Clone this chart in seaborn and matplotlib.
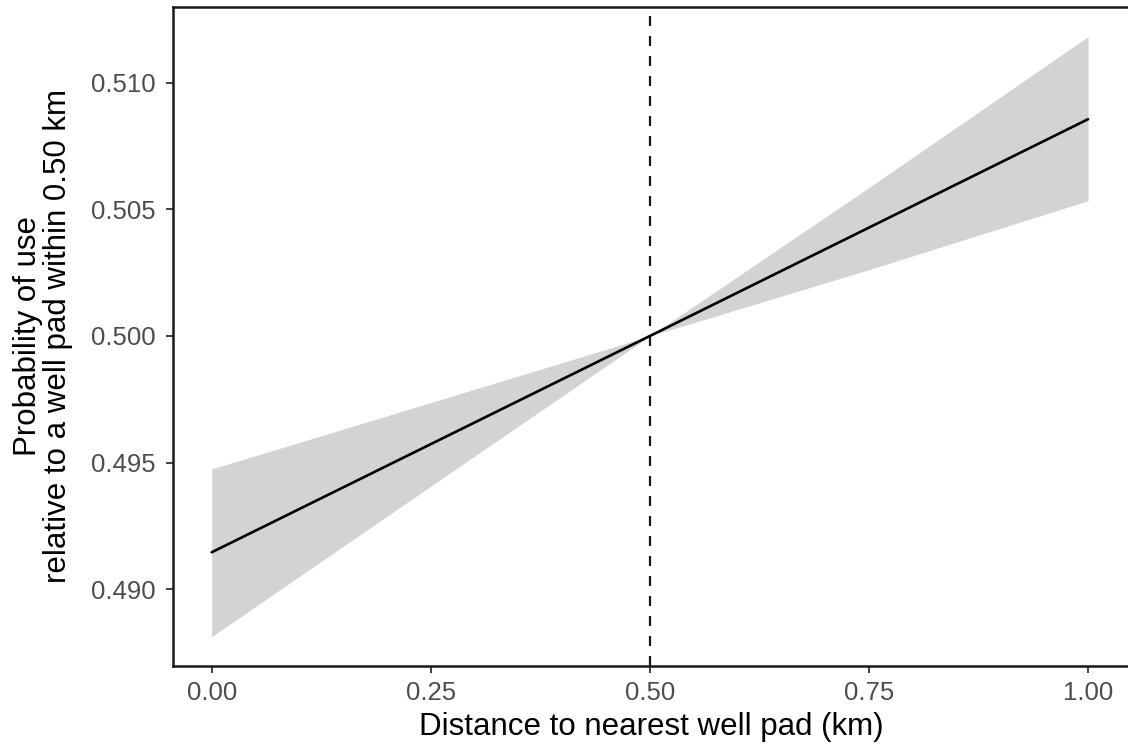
import numpy as np
import pandas as pd
import matplotlib
matplotlib.use("Agg")
import matplotlib.pyplot as plt
import seaborn as sns

# Predicted probability of use vs. distance to the nearest well pad
distance_km = [0.0, 0.25, 0.50, 0.75, 1.0]
prob_fit = [0.49146, 0.49573, 0.50000, 0.50428, 0.50856]
prob_lower = [0.48813, 0.49407, 0.50000, 0.50262, 0.50534]
prob_upper = [0.49475, 0.49737, 0.50000, 0.50586, 0.51182]

x_ticks = [0.00, 0.25, 0.50, 0.75, 1.00]
x_tick_labels = ["0.00", "0.25", "0.50", "0.75", "1.00"]
y_ticks = [0.490, 0.495, 0.500, 0.505, 0.510]
y_tick_labels = ["0.490", "0.495", "0.500", "0.505", "0.510"]
reference_distance = 0.50

df = pd.DataFrame({"distance": distance_km, "fit": prob_fit,
                   "lower": prob_lower, "upper": prob_upper})

sns.set_theme(style="white")
plt.rcParams["font.family"] = ["Liberation Sans", "DejaVu Sans"]

W, H = 1128, 751
fig = plt.figure(figsize=(W / 100, H / 100), dpi=100)
left_px, right_px, top_px, bottom_px = 172.7, 1130.0, 6.5, 666.0
ax = fig.add_axes([left_px / W, 1 - bottom_px / H,
                   (right_px - left_px) / W, (bottom_px - top_px) / H])

ax.fill_between(df["distance"], df["lower"], df["upper"],
                color="#D3D3D3", linewidth=0, zorder=1)
sns.lineplot(data=df, x="distance", y="fit", ax=ax, color="black",
             linewidth=1.9, zorder=3, legend=False)
ax.axvline(reference_distance, color="#1a1a1a", linewidth=1.6,
           linestyle=(0, (4.5, 4.5)), zorder=2)

ax.set_xlim(-0.0445, 1.0479)
ax.set_ylim(0.48697, 0.51301)
ax.set_xticks(x_ticks)
ax.set_xticklabels(x_tick_labels)
ax.set_yticks(y_ticks)
ax.set_yticklabels(y_tick_labels)

ax.tick_params(axis="both", which="major", length=5, width=1.3,
               color="#333333", labelcolor="#4D4D4D", labelsize=18.5,
               direction="out", bottom=True, left=True)
ax.tick_params(axis="y", pad=7)
ax.tick_params(axis="x", pad=6)

for side in ["left", "bottom", "top", "right"]:
    ax.spines[side].set_visible(True)
    ax.spines[side].set_color("#1a1a1a")
    ax.spines[side].set_linewidth(1.8)

ax.set_xlabel("Distance to nearest well pad (km)", fontsize=22.5,
              color="black", labelpad=5)
ax.set_ylabel("Probability of use\nrelative to a well pad within 0.50 km",
              fontsize=22.5, color="black", labelpad=13, linespacing=1.0)
ax.grid(False)
ax.set_facecolor("white")

fig.savefig("out.png", dpi=100, facecolor="white")
